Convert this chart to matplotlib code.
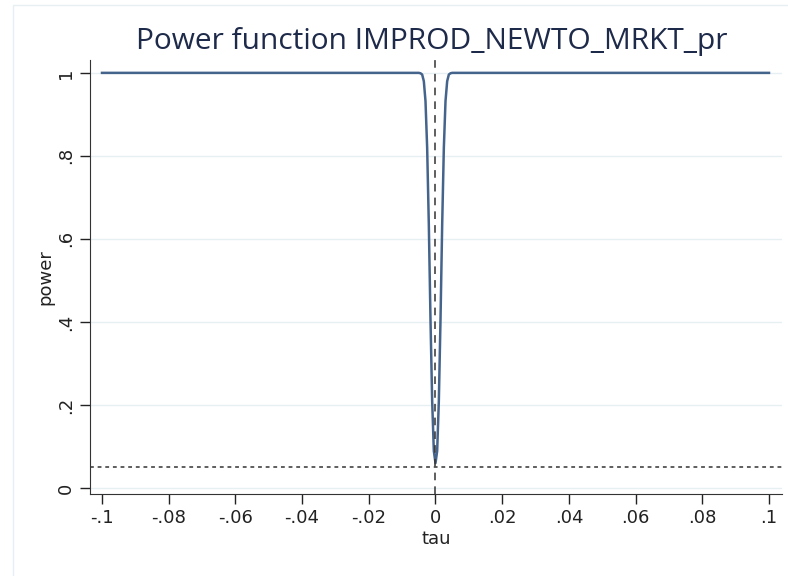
#!/usr/bin/env python3
import matplotlib
matplotlib.use("Agg")
import matplotlib.pyplot as plt
from matplotlib.patches import Rectangle

# power function (symmetric dip around tau = 0)
tau = [-0.1, -0.006, -0.005, -0.0045, -0.004, -0.0035, -0.003, -0.0025, -0.002,
       -0.0015, -0.001, -0.0005, 0.0, 0.0005, 0.001, 0.0015, 0.002, 0.0025,
       0.003, 0.0035, 0.004, 0.0045, 0.005, 0.006, 0.1]
power = [1.0, 1.0, 1.0, 0.999, 0.996, 0.98, 0.932, 0.819, 0.633,
         0.405, 0.21, 0.089, 0.06, 0.089, 0.21, 0.405, 0.633, 0.819,
         0.932, 0.98, 0.996, 0.999, 1.0, 1.0, 1.0]
alpha = 0.05

xticks = [-0.1, -0.08, -0.06, -0.04, -0.02, 0, 0.02, 0.04, 0.06, 0.08, 0.1]
xlabels = ['-.1', '-.08', '-.06', '-.04', '-.02', '0', '.02', '.04', '.06', '.08', '.1']
yticks = [0, 0.2, 0.4, 0.6, 0.8, 1]
ylabels = ['0', '.2', '.4', '.6', '.8', '1']


def main():
    plt.rcParams['font.family'] = ['DejaVu Sans']
    fig = plt.figure(figsize=(7.88, 5.76), dpi=100)
    # faint outer graph-region frame
    fig.patches.append(Rectangle((13 / 788, -0.05), 1.0, 1.0 - 5 / 576 + 0.05,
                                 transform=fig.transFigure, fill=False,
                                 edgecolor='#e8eff2', lw=1))
    ax = fig.add_axes([90 / 788, 1 - 494 / 576, (782 - 90) / 788, (494 - 60) / 576])

    for y in yticks:
        ax.axhline(y, color='#e6eff2', lw=1, zorder=0)
    ax.axhline(alpha, color='#333333', lw=1.1, ls=(0, (2.5, 2.5)), zorder=1)
    ax.axvline(0, color='#333333', lw=1.1, ls=(0, (5, 4)), zorder=3)
    ax.plot(tau, power, color='#45648c', lw=1.8, zorder=2)

    ax.set_xlim(-0.1036, 0.1039)
    ax.set_ylim(-0.0145, 1.031)
    ax.set_xticks(xticks)
    ax.set_xticklabels(xlabels)
    ax.set_yticks(yticks)
    ax.set_yticklabels(ylabels, rotation=90, va='center')
    ax.tick_params(direction='out', length=7, width=1, labelsize=13,
                   colors='#222222', pad=4)
    for s in ['top', 'right']:
        ax.spines[s].set_visible(False)
    for s in ['left', 'bottom']:
        ax.spines[s].set_color('#333333')

    ax.set_xlabel('tau', fontsize=13, color='#222222', labelpad=2)
    ax.set_ylabel('power', fontsize=13, color='#222222', labelpad=2)
    fig.text(432 / 788, 1 - 41 / 576, 'Power function IMPROD_NEWTO_MRKT_pr',
             ha='center', va='center', fontsize=21.5, color='#1e2a4a',
             family=['Open Sans', 'DejaVu Sans'])

    fig.savefig('out.png', dpi=100)


if __name__ == "__main__":
    main()
